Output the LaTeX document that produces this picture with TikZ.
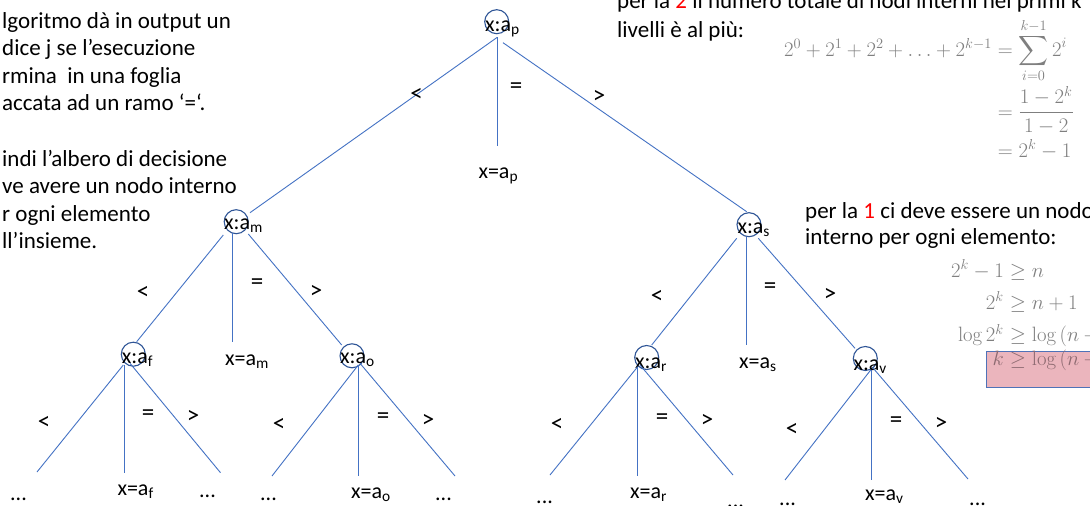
\documentclass[tikz,border=0pt]{standalone}
\usepackage{amsmath}
\usepackage[no-math]{fontspec}
\setmainfont{Carlito}
\usetikzlibrary{calc}
\definecolor{linkblue}{HTML}{4472C4}
\definecolor{circblue}{HTML}{2F5597}
\definecolor{mathgray}{HTML}{7F7F7F}
\definecolor{boxpink}{HTML}{EBB5BD}
\definecolor{boxline}{HTML}{4F72B8}
\definecolor{boxtext}{HTML}{8C6970}
\tikzset{
  lk/.style={draw=linkblue, line width=0.9pt},
  cnode/.style={circle, draw=circblue, line width=1.1pt, minimum size=24pt, inner sep=0pt},
  lab/.style={anchor=base west, inner sep=0pt, font=\fontsize{22}{26}\selectfont},
  rel/.style={anchor=center, inner sep=0pt, font=\fontsize{25}{29}\selectfont},
  txt/.style={anchor=base west, inner sep=0pt, font=\fontsize{23}{27}\selectfont},
  mth/.style={inner sep=0pt, text=mathgray, font=\fontsize{20.5}{24}\selectfont},
}
\begin{document}
\begin{tikzpicture}[x=1pt,y=-1pt]
\useasboundingbox (0,0) rectangle (1090,506);
\fill[white] (0,0) rectangle (1090,506);
\clip (0,0) rectangle (1090,506);

% circles of internal nodes
\node[cnode] (c0) at (496.7,21.7) {};
\node[cnode] (cm) at (236.2,221.7) {};
\node[cnode] (cs) at (749,224.7) {};
\node[cnode] (cf) at (133.3,354.2) {};
\node[cnode] (co) at (352,355.8) {};
\node[cnode] (cr) at (646.7,357.5) {};
\node[cnode] (cv) at (865.3,358.5) {};

% labels of internal nodes
\node[lab] (t0) at (485,31.7) {x:a\textsubscript{p}};
\node[lab] (tm) at (224,229.3) {x:a\textsubscript{m}};
\node[lab] (ts) at (737.3,233.3) {x:a\textsubscript{s}};
\node[lab] (tf) at (121.7,363.3) {x:a\textsubscript{f}};
\node[lab] (to) at (340,363.3) {x:a\textsubscript{o}};
\node[lab] (tr) at (635,368.3) {x:a\textsubscript{r}};
\node[lab] (tv) at (853.3,370) {x:a\textsubscript{v}};

% leaves
\node[lab] (lp) at (478.3,178.3) {x=a\textsubscript{p}};
\node[lab] (lm) at (225,365) {x=a\textsubscript{m}};
\node[lab] (ls) at (739,368.3) {x=a\textsubscript{s}};
\node[lab] (lf) at (117.3,495) {x=a\textsubscript{f}};
\node[lab] (lo) at (351,498.3) {x=a\textsubscript{o}};
\node[lab] (lr) at (630,498.3) {x=a\textsubscript{r}};
\node[lab] (lv) at (865,500) {x=a\textsubscript{v}};
\node[lab] (d1) at (10,500) {...};
\node[lab] (d2) at (199,497) {...};
\node[lab] (d3) at (260,500) {...};
\node[lab] (d4) at (435,500) {...};
\node[lab] (d5) at (536,503) {...};
\node[lab] (d6) at (727,507) {...};
\node[lab] (d7) at (779,505) {...};
\node[lab] (d8) at (969,505) {...};

% free ends of branches
\coordinate (e0) at (497.3,146);
\coordinate (em) at (232.7,342);
\coordinate (es) at (746.7,345);
\coordinate (ef1) at (37,472);
\coordinate (ef2) at (124.3,473);
\coordinate (ef3) at (220.5,472.7);
\coordinate (eo1) at (272,476);
\coordinate (eo2) at (358.3,476);
\coordinate (eo3) at (455,476);
\coordinate (er1) at (550,475);
\coordinate (er2) at (637.7,476);
\coordinate (er3) at (733,475);
\coordinate (ev1) at (785,480);
\coordinate (ev2) at (871.7,480);
\coordinate (ev3) at (968,479);

% branches
\draw[lk] ($(c0)+(0.3,15.8)$) -- ($(cm)+(13.8,-9)$);
\draw[lk] ($(c0)+(0.6,15.3)$) -- (e0);
\draw[lk] ($(c0)+(6.3,21)$) -- ($(cs)+(-2.3,-13)$);

\draw[lk] ($(cm)+(-12.9,13.3)$) -- ($(cf)+(3.4,-12.5)$);
\draw[lk] ($(cm)+(-3.5,11.6)$) -- (em);
\draw[lk] ($(cm)+(12.1,12.3)$) -- ($(co)+(-10.3,-10.8)$);

\draw[lk] ($(cs)+(-12.3,13.6)$) -- ($(cr)+(5,-12.5)$);
\draw[lk] ($(cs)+(-2.3,12)$) -- (es);
\draw[lk] ($(cs)+(9.3,13.6)$) -- ($(cv)+(-10.3,-10.2)$);

\draw[lk] ($(cf)+(-10,10.8)$) -- (ef1);
\draw[lk] ($(cf)+(-9,10.8)$) -- (ef2);
\draw[lk] ($(cf)+(-3.3,9.1)$) -- (ef3);

\draw[lk] ($(co)+(6.3,9.2)$) -- (eo1);
\draw[lk] ($(co)+(6.3,9.2)$) -- (eo2);
\draw[lk] ($(co)+(8,7.5)$) -- (eo3);

\draw[lk] ($(cr)+(-9,9.2)$) -- (er1);
\draw[lk] ($(cr)+(-9,9.2)$) -- (er2);
\draw[lk] ($(cr)+(-6.7,7.5)$) -- (er3);

\draw[lk] ($(cv)+(5.4,11.5)$) -- (ev1);
\draw[lk] ($(cv)+(6.4,11.5)$) -- (ev2);
\draw[lk] ($(cv)+(8,9.8)$) -- (ev3);

% branch labels
\node[rel] (b0l) at (416.7,95) {<};
\node[rel] (b0e) at (516,88.3) {=};
\node[rel] (b0g) at (599,96.7) {>};
\node[rel] (bml) at (143,293) {<};
\node[rel] (bme) at (257,284) {=};
\node[rel] (bmg) at (316,292) {>};
\node[rel] (bsl) at (657,297) {<};
\node[rel] (bse) at (770,288) {=};
\node[rel] (bsg) at (830,295) {>};
\node[rel] (bfl) at (44,423) {<};
\node[rel] (bfe) at (148,415.5) {=};
\node[rel] (bfg) at (193,416.7) {>};
\node[rel] (bol) at (279,425) {<};
\node[rel] (boe) at (383,418) {=};
\node[rel] (bog) at (428,421) {>};
\node[rel] (brl) at (557,425) {<};
\node[rel] (bre) at (662,419) {=};
\node[rel] (brg) at (707,421) {>};
\node[rel] (bvl) at (792,430) {<};
\node[rel] (bve) at (896,422) {=};
\node[rel] (bvg) at (941,424) {>};

% left text
\node[txt] (p1) at (2,28) {lgoritmo dà in output un};
\node[txt] (p2) at (2,55) {dice j se l’esecuzione};
\node[txt] (p3) at (2,83) {rmina \ in una foglia};
\node[txt] (p4) at (2,110) {accata ad un ramo ‘=‘.};
\node[txt] (p6) at (2,166) {indi l’albero di decisione};
\node[txt] (p7) at (2,193) {ve avere un nodo interno};
\node[txt] (p8) at (2,221) {r ogni elemento};
\node[txt] (p9) at (2,248) {ll’insieme.};

% right text
\node[txt] (q1) at (617,9) {per la \textcolor{red}{2} il numero totale di nodi interni nei primi k};
\node[txt] (q2) at (617,37) {livelli è al più:};
\node[txt] (r1) at (805,218) {per la \textcolor{red}{1} ci deve essere un nodo};
\node[txt] (r2) at (805,244) {interno per ogni elemento:};

% first formula
\node[mth, anchor=base east] (m1l) at (992,56) {$2^0+2^1+2^2+\ldots+2^{k-1}$};
\node[mth, anchor=base west] (m1r) at (992,56) {$\displaystyle{}=\sum_{i=0}^{k-1}2^i$};
\node[mth, anchor=base west] (m2) at (992,118) {$\displaystyle{}=\frac{1-2^k}{1-2}$};
\node[mth, anchor=base west] (m3) at (992,157) {${}=2^k-1$};

% second formula
\node[mth, anchor=base east] (n1l) at (1004,277) {$2^k-1$};
\node[mth, anchor=base west] (n1r) at (1004,277) {${}\geq n$};
\node[mth, anchor=base east] (n2l) at (1004,309) {$2^k$};
\node[mth, anchor=base west] (n2r) at (1004,309) {${}\geq n+1$};
\node[mth, anchor=base east] (n3l) at (1004,341.7) {$\log 2^k$};
\node[mth, anchor=base west] (n3r) at (1004,341.7) {${}\geq \log\left(n+1\right)$};
\draw[fill=boxpink, draw=boxline, line width=1pt] (986,351) rectangle (1100,387);
\node[mth, anchor=base east, text=boxtext] (n4l) at (1004,365) {$k$};
\node[mth, anchor=base west, text=boxtext] (n4r) at (1004,365) {${}\geq \log\left(n+1\right)$};
\end{tikzpicture}
\end{document}
